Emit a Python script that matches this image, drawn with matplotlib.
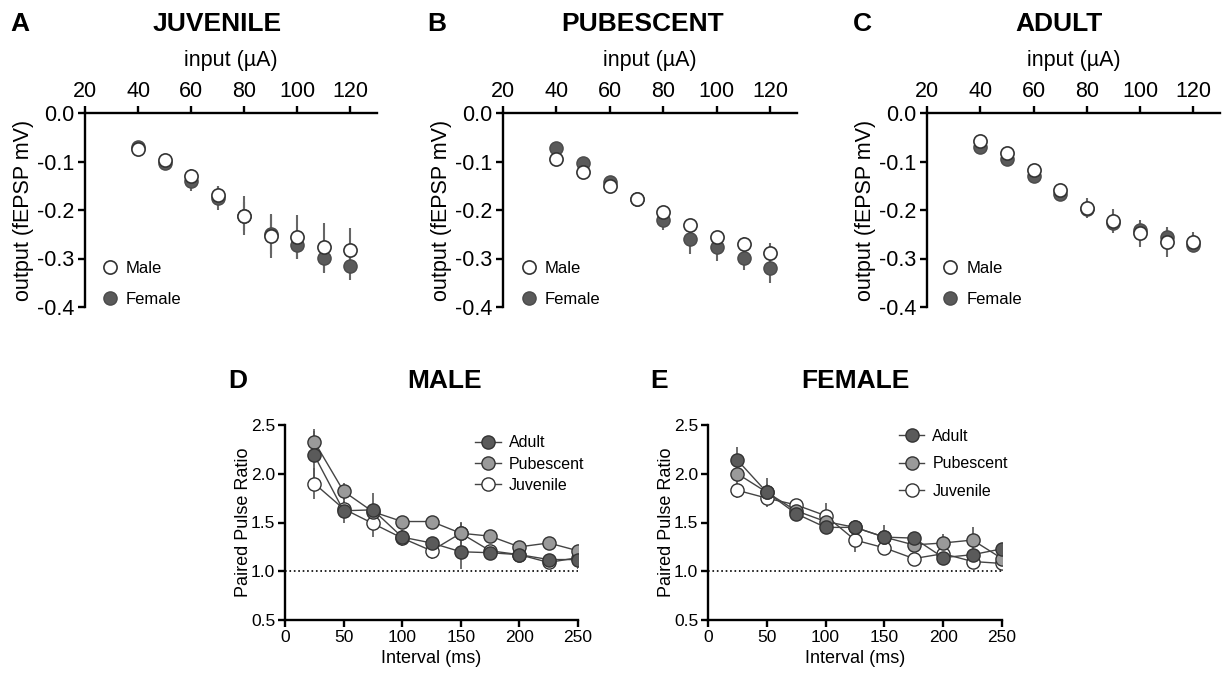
import numpy as np
import matplotlib
matplotlib.use("Agg")
import matplotlib.pyplot as plt
from matplotlib.lines import Line2D

plt.rcParams['font.family'] = ['Liberation Sans', 'DejaVu Sans']
plt.rcParams['axes.unicode_minus'] = False

# input/output curves
input_ua = [40, 50, 60, 70, 80, 90, 100, 110, 120]

juv_male = [-0.075, -0.097, -0.130, -0.170, -0.212, -0.254, -0.256, -0.277, -0.283]
juv_male_err = [0.008, 0.010, 0.015, 0.020, 0.040, 0.045, 0.045, 0.050, 0.046]
juv_female = [-0.070, -0.103, -0.140, -0.175, -0.213, -0.250, -0.272, -0.299, -0.315]
juv_female_err = [0.008, 0.015, 0.020, 0.025, 0.030, 0.040, 0.030, 0.030, 0.030]

pub_male = [-0.095, -0.122, -0.151, -0.178, -0.204, -0.230, -0.255, -0.270, -0.289]
pub_male_err = [0.005, 0.006, 0.008, 0.012, 0.010, 0.010, 0.012, 0.015, 0.020]
pub_female = [-0.073, -0.104, -0.143, -0.178, -0.221, -0.260, -0.276, -0.298, -0.320]
pub_female_err = [0.006, 0.008, 0.010, 0.015, 0.020, 0.030, 0.030, 0.025, 0.030]

adu_male = [-0.058, -0.082, -0.118, -0.158, -0.196, -0.222, -0.248, -0.266, -0.265]
adu_male_err = [0.005, 0.006, 0.008, 0.010, 0.020, 0.025, 0.028, 0.030, 0.020]
adu_female = [-0.071, -0.095, -0.130, -0.166, -0.197, -0.226, -0.242, -0.255, -0.272]
adu_female_err = [0.005, 0.006, 0.008, 0.012, 0.015, 0.015, 0.015, 0.015, 0.015]

# paired pulse ratio
interval_ms = [25, 50, 75, 100, 125, 150, 175, 200, 225, 250]

male_adult = [2.19, 1.62, 1.63, 1.35, 1.29, 1.20, 1.19, 1.17, 1.12, 1.12]
male_adult_err = [0.25, 0.13, 0.17, 0.07, 0.06, 0.18, 0.06, 0.06, 0.04, 0.10]
male_pub = [2.33, 1.82, 1.61, 1.51, 1.51, 1.39, 1.36, 1.25, 1.29, 1.21]
male_pub_err = [0.13, 0.09, 0.08, 0.06, 0.06, 0.10, 0.05, 0.04, 0.04, 0.05]
male_juv = [1.90, 1.64, 1.49, 1.34, 1.21, 1.39, 1.21, 1.17, 1.09, 1.14]
male_juv_err = [0.16, 0.08, 0.14, 0.08, 0.08, 0.12, 0.06, 0.07, 0.04, 0.06]

female_adult = [2.14, 1.81, 1.59, 1.45, 1.45, 1.35, 1.34, 1.14, 1.17, 1.23]
female_adult_err = [0.13, 0.08, 0.06, 0.05, 0.06, 0.06, 0.06, 0.05, 0.06, 0.04]
female_pub = [2.00, 1.81, 1.62, 1.51, 1.45, 1.35, 1.27, 1.29, 1.32, 1.13]
female_pub_err = [0.10, 0.15, 0.06, 0.06, 0.08, 0.12, 0.06, 0.09, 0.13, 0.05]
female_juv = [1.83, 1.75, 1.68, 1.57, 1.32, 1.24, 1.13, 1.18, 1.10, 1.08]
female_juv_err = [0.08, 0.07, 0.05, 0.13, 0.12, 0.05, 0.04, 0.05, 0.06, 0.05]

W, H = 1225, 675
fig = plt.figure(figsize=(W / 100, H / 100), dpi=100)


def px_axes(left, right, top, bottom):
    return fig.add_axes([left / W, 1 - bottom / H, (right - left) / W, (bottom - top) / H])


DARK = '#5a5a5a'
MID = '#9a9a9a'
EDGE = '#333333'


def io_panel(ax, male, male_err, female, female_err, leg_x):
    ax.errorbar(input_ua, female, yerr=female_err, fmt='none', ecolor='#666666', elinewidth=1.5, zorder=2)
    ax.errorbar(input_ua, male, yerr=male_err, fmt='none', ecolor='#666666', elinewidth=1.5, zorder=2)
    ax.plot(input_ua, female, 'o', ms=9.5, mfc=DARK, mec='#4a4a4a', mew=1.0, zorder=3)
    ax.plot(input_ua, male, 'o', ms=9.5, mfc='white', mec=EDGE, mew=1.2, zorder=4)
    ax.set_xlim(20, 130)
    ax.set_ylim(-0.4, 0.0)
    ax.set_xticks([20, 40, 60, 80, 100, 120])
    ax.set_yticks([0.0, -0.1, -0.2, -0.3, -0.4])
    ax.set_yticklabels(['0.0', '-0.1', '-0.2', '-0.3', '-0.4'])
    ax.xaxis.tick_top()
    ax.xaxis.set_label_position('top')
    for s in ['right', 'bottom']:
        ax.spines[s].set_visible(False)
    for s in ['left', 'top']:
        ax.spines[s].set_linewidth(1.7)
    ax.tick_params(width=1.7, length=5, labelsize=15.5, pad=3)
    ax.set_xlabel('input (µA)', fontsize=15.5, labelpad=11)
    ax.set_ylabel('output (fEPSP mV)', fontsize=15.5, labelpad=2)
    handles = [
        Line2D([], [], ls='none', marker='o', ms=9.5, mfc='white', mec=EDGE, mew=1.2),
        Line2D([], [], ls='none', marker='o', ms=9.5, mfc=DARK, mec='#4a4a4a', mew=1.0),
    ]
    ax.legend(handles, ['Male', 'Female'], loc='lower left', bbox_to_anchor=(leg_x, -0.075),
              frameon=False, fontsize=12, handletextpad=0.45, labelspacing=0.95,
              handlelength=1.0)


def ppr_panel(ax, adult, adult_err, pub, pub_err, juv, juv_err, leg_y, leg_sp):
    ax.axhline(1.0, xmin=0, xmax=1, color='black', ls=':', lw=1.2, zorder=1)
    series = [(juv, juv_err, 'white'), (pub, pub_err, MID), (adult, adult_err, DARK)]
    for vals, err, col in series:
        ax.errorbar(interval_ms, vals, yerr=err, fmt='none', ecolor='#555555', elinewidth=1.2, zorder=2)
    for vals, err, col in series:
        ax.plot(interval_ms, vals, '-o', color='#444444', lw=1.0, ms=9.5, mfc=col, mec=EDGE, mew=1.0, zorder=3)
    ax.set_xlim(0, 250)
    ax.set_ylim(0.5, 2.5)
    ax.set_xticks([0, 50, 100, 150, 200, 250])
    ax.set_yticks([0.5, 1.0, 1.5, 2.0, 2.5])
    ax.set_yticklabels(['0.5', '1.0', '1.5', '2.0', '2.5'])
    for s in ['right', 'top']:
        ax.spines[s].set_visible(False)
    for s in ['left', 'bottom']:
        ax.spines[s].set_linewidth(1.7)
    ax.tick_params(width=1.7, length=5, labelsize=12.5, pad=2)
    ax.set_xlabel('Interval (ms)', fontsize=13, labelpad=4)
    ax.set_ylabel('Paired Pulse Ratio', fontsize=13, labelpad=-1)
    handles = [Line2D([], [], color='#444444', lw=1.0, marker='o', ms=9.5, mfc=c, mec=EDGE, mew=1.0)
               for c in [DARK, MID, 'white']]
    ax.legend(handles, ['Adult', 'Pubescent', 'Juvenile'], loc='upper left',
              bbox_to_anchor=(0.60, leg_y), frameon=False, fontsize=11.5,
              handlelength=1.6, handletextpad=0.5, labelspacing=leg_sp)


axA = px_axes(85, 377, 113, 307)
axB = px_axes(503, 797, 113, 307)
axC = px_axes(927, 1220, 113, 307)
axD = px_axes(285, 578, 425, 620)
axE = px_axes(708, 1002, 425, 620)

io_panel(axA, juv_male, juv_male_err, juv_female, juv_female_err, 0.005)
io_panel(axB, pub_male, pub_male_err, pub_female, pub_female_err, 0.01)
io_panel(axC, adu_male, adu_male_err, adu_female, adu_female_err, 0.0)
ppr_panel(axD, male_adult, male_adult_err, male_pub, male_pub_err, male_juv, male_juv_err, 1.02, 0.38)
ppr_panel(axE, female_adult, female_adult_err, female_pub, female_pub_err, female_juv, female_juv_err, 1.055, 0.78)

# panel letters and titles
titles = [('A', 10, 'JUVENILE', 217, 24), ('B', 427, 'PUBESCENT', 643, 24), ('C', 853, 'ADULT', 1059, 24),
          ('D', 228, 'MALE', 445, 381), ('E', 650, 'FEMALE', 855, 381)]
for letter, lx, title, tx, ty in titles:
    fig.text(lx / W, 1 - ty / H, letter, fontsize=19, fontweight='bold', ha='left', va='center')
    fig.text(tx / W, 1 - ty / H, title, fontsize=19, fontweight='bold', ha='center', va='center')

fig.savefig('out.png', dpi=100)
